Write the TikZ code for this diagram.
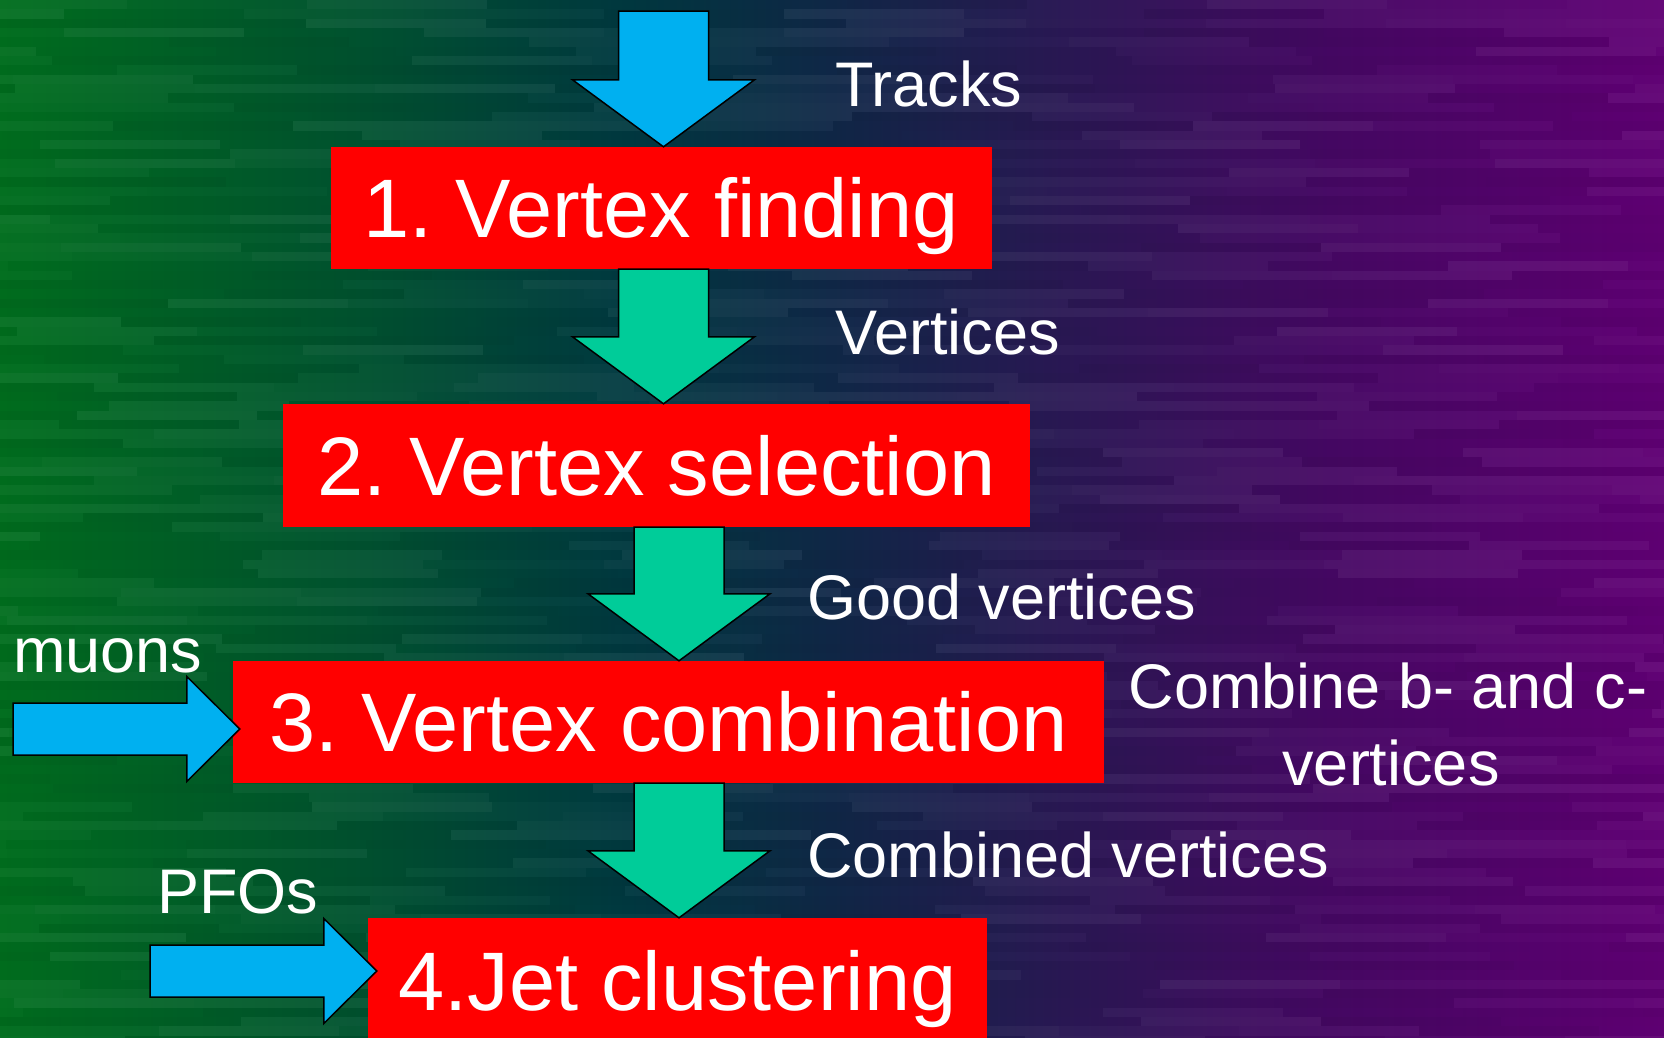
\documentclass[tikz,border=0pt]{standalone}
\usepackage{fontspec}
\setmainfont{Liberation Sans}
\usetikzlibrary{calc}
\definecolor{bgA}{RGB}{0,110,30}
\definecolor{bgB}{RGB}{0,82,48}
\definecolor{bgC}{RGB}{0,58,64}
\definecolor{bgD}{RGB}{16,40,72}
\definecolor{bgE}{RGB}{42,24,84}
\definecolor{bgF}{RGB}{70,8,100}
\definecolor{bgG}{RGB}{96,0,116}
\definecolor{arrblue}{RGB}{0,176,240}
\definecolor{arrgreen}{RGB}{0,204,153}
\pgfdeclarehorizontalshading{bgshade}{100bp}{color(0bp)=(bgA); color(25bp)=(bgA); color(36bp)=(bgB); color(43.5bp)=(bgC); color(50bp)=(bgD); color(57bp)=(bgE); color(65bp)=(bgF); color(75bp)=(bgG); color(100bp)=(bgG)}
\newcommand{\blockdown}[3][]{\draw[blockarrow,#1] let \p1=(#2), \p2=(#3) in (\x2-45pt,\y1) -- (\x2+45pt,\y1) -- (\x2+45pt,\y2+67pt) -- (\x2+91pt,\y2+67pt) -- (\x2,\y2) -- (\x2-91pt,\y2+67pt) -- (\x2-45pt,\y2+67pt) -- cycle;}
\newcommand{\blockright}[3][]{\draw[blockarrow,#1] let \p1=(#2), \p2=(#3) in (\x1,\y2+26pt) -- (\x2-53pt,\y2+26pt) -- (\x2-53pt,\y2+52.5pt) -- (\x2,\y2) -- (\x2-53pt,\y2-52.5pt) -- (\x2-53pt,\y2-26pt) -- (\x1,\y2-26pt) -- cycle;}
\frenchspacing
\begin{document}
\begin{tikzpicture}[x=1pt,y=-1pt,
  stagebox/.style={fill=red, text=white, inner sep=0pt, font=\fontsize{83}{90}\selectfont, text height=59.4pt, text depth=0pt},
  lbl/.style={text=white, inner sep=0pt, font=\fontsize{63}{77}\selectfont},
  blockarrow/.style={draw=black, line width=1.5pt, line join=miter}]
\clip (0,0) rectangle (1664,1037);
\shade[shading=bgshade] (0,0) rectangle (1664,1037);
\pgfmathsetseed{4242}
\foreach \r in {0,...,111}{
  \pgfmathsetmacro{\yy}{\r*9.33}
  \pgfmathsetmacro{\off}{rnd*180}
  \foreach \c in {0,...,10}{
    \pgfmathsetmacro{\xx}{\c*180-\off}
    \pgfmathsetmacro{\op}{0.01+rnd*0.045}
    \pgfmathrandominteger{\k}{0}{1}
    \ifnum\k=0
      \fill[white,opacity=\op] (\xx,\yy) rectangle ++(180,9.33);
    \else
      \fill[black,opacity=\op] (\xx,\yy) rectangle ++(180,9.33);
    \fi
  }
}
% stages
\node[stagebox, minimum width=661pt, minimum height=122pt] (box1) at (661.1,208) {1. Vertex finding};
\node[stagebox, minimum width=747pt, minimum height=123pt] (box2) at (656.5,465.5) {2. Vertex selection};
\node[stagebox, minimum width=871pt, minimum height=122pt] (box3) at (668.5,722) {3. Vertex combination};
\node[stagebox, minimum width=619pt, minimum height=125pt] (box4) at (677.5,980.5) {4.Jet clustering};
% arrow helper coordinates
\coordinate (in0) at (663.5,11);
\coordinate (ax1) at (663.5,0);
\coordinate (ax2) at (679,0);
\coordinate (mu0) at (13,729);
\coordinate (pf0) at (150,971);
\coordinate (tip0) at (box1.north -| in0);
\coordinate (top1) at (box1.south -| ax1);
\coordinate (tip1) at (box2.north -| ax1);
\coordinate (top2) at (box2.south -| ax2);
\coordinate (tip2) at (box3.north -| ax2);
\coordinate (top3) at (box3.south -| ax2);
\coordinate (tip3) at (box4.north -| ax2);
\coordinate (mutip) at ($(box3.west |- mu0)+(7,0)$);
\coordinate (pftip) at ($(box4.west |- pf0)+(9,0)$);
% connectors
\blockdown[fill=arrblue]{in0}{tip0}
\blockdown[fill=arrgreen]{top1}{tip1}
\blockdown[fill=arrgreen]{top2}{tip2}
\blockdown[fill=arrgreen]{top3}{tip3}
\blockright[fill=arrblue]{mu0}{mutip}
\blockright[fill=arrblue]{pf0}{pftip}
% labels
\node[lbl, anchor=base west] (tracks) at (835.6,106) {Tracks};
\node[lbl, anchor=base west] (vertices) at (835.6,354) {Vertices};
\node[lbl, anchor=base west] (good) at (807,619) {Good vertices};
\node[lbl, anchor=base] (comb1) at (1388,708) {Combine b- and c-};
\node[lbl, anchor=base] (comb2) at (1391,785) {vertices};
\node[lbl, anchor=base west] (combined) at (807,877) {Combined vertices};
\node[lbl, anchor=base west] (muons) at (13,672) {muons};
\node[lbl, anchor=base west] (pfos) at (157,913) {PFOs};
\end{tikzpicture}
\end{document}
